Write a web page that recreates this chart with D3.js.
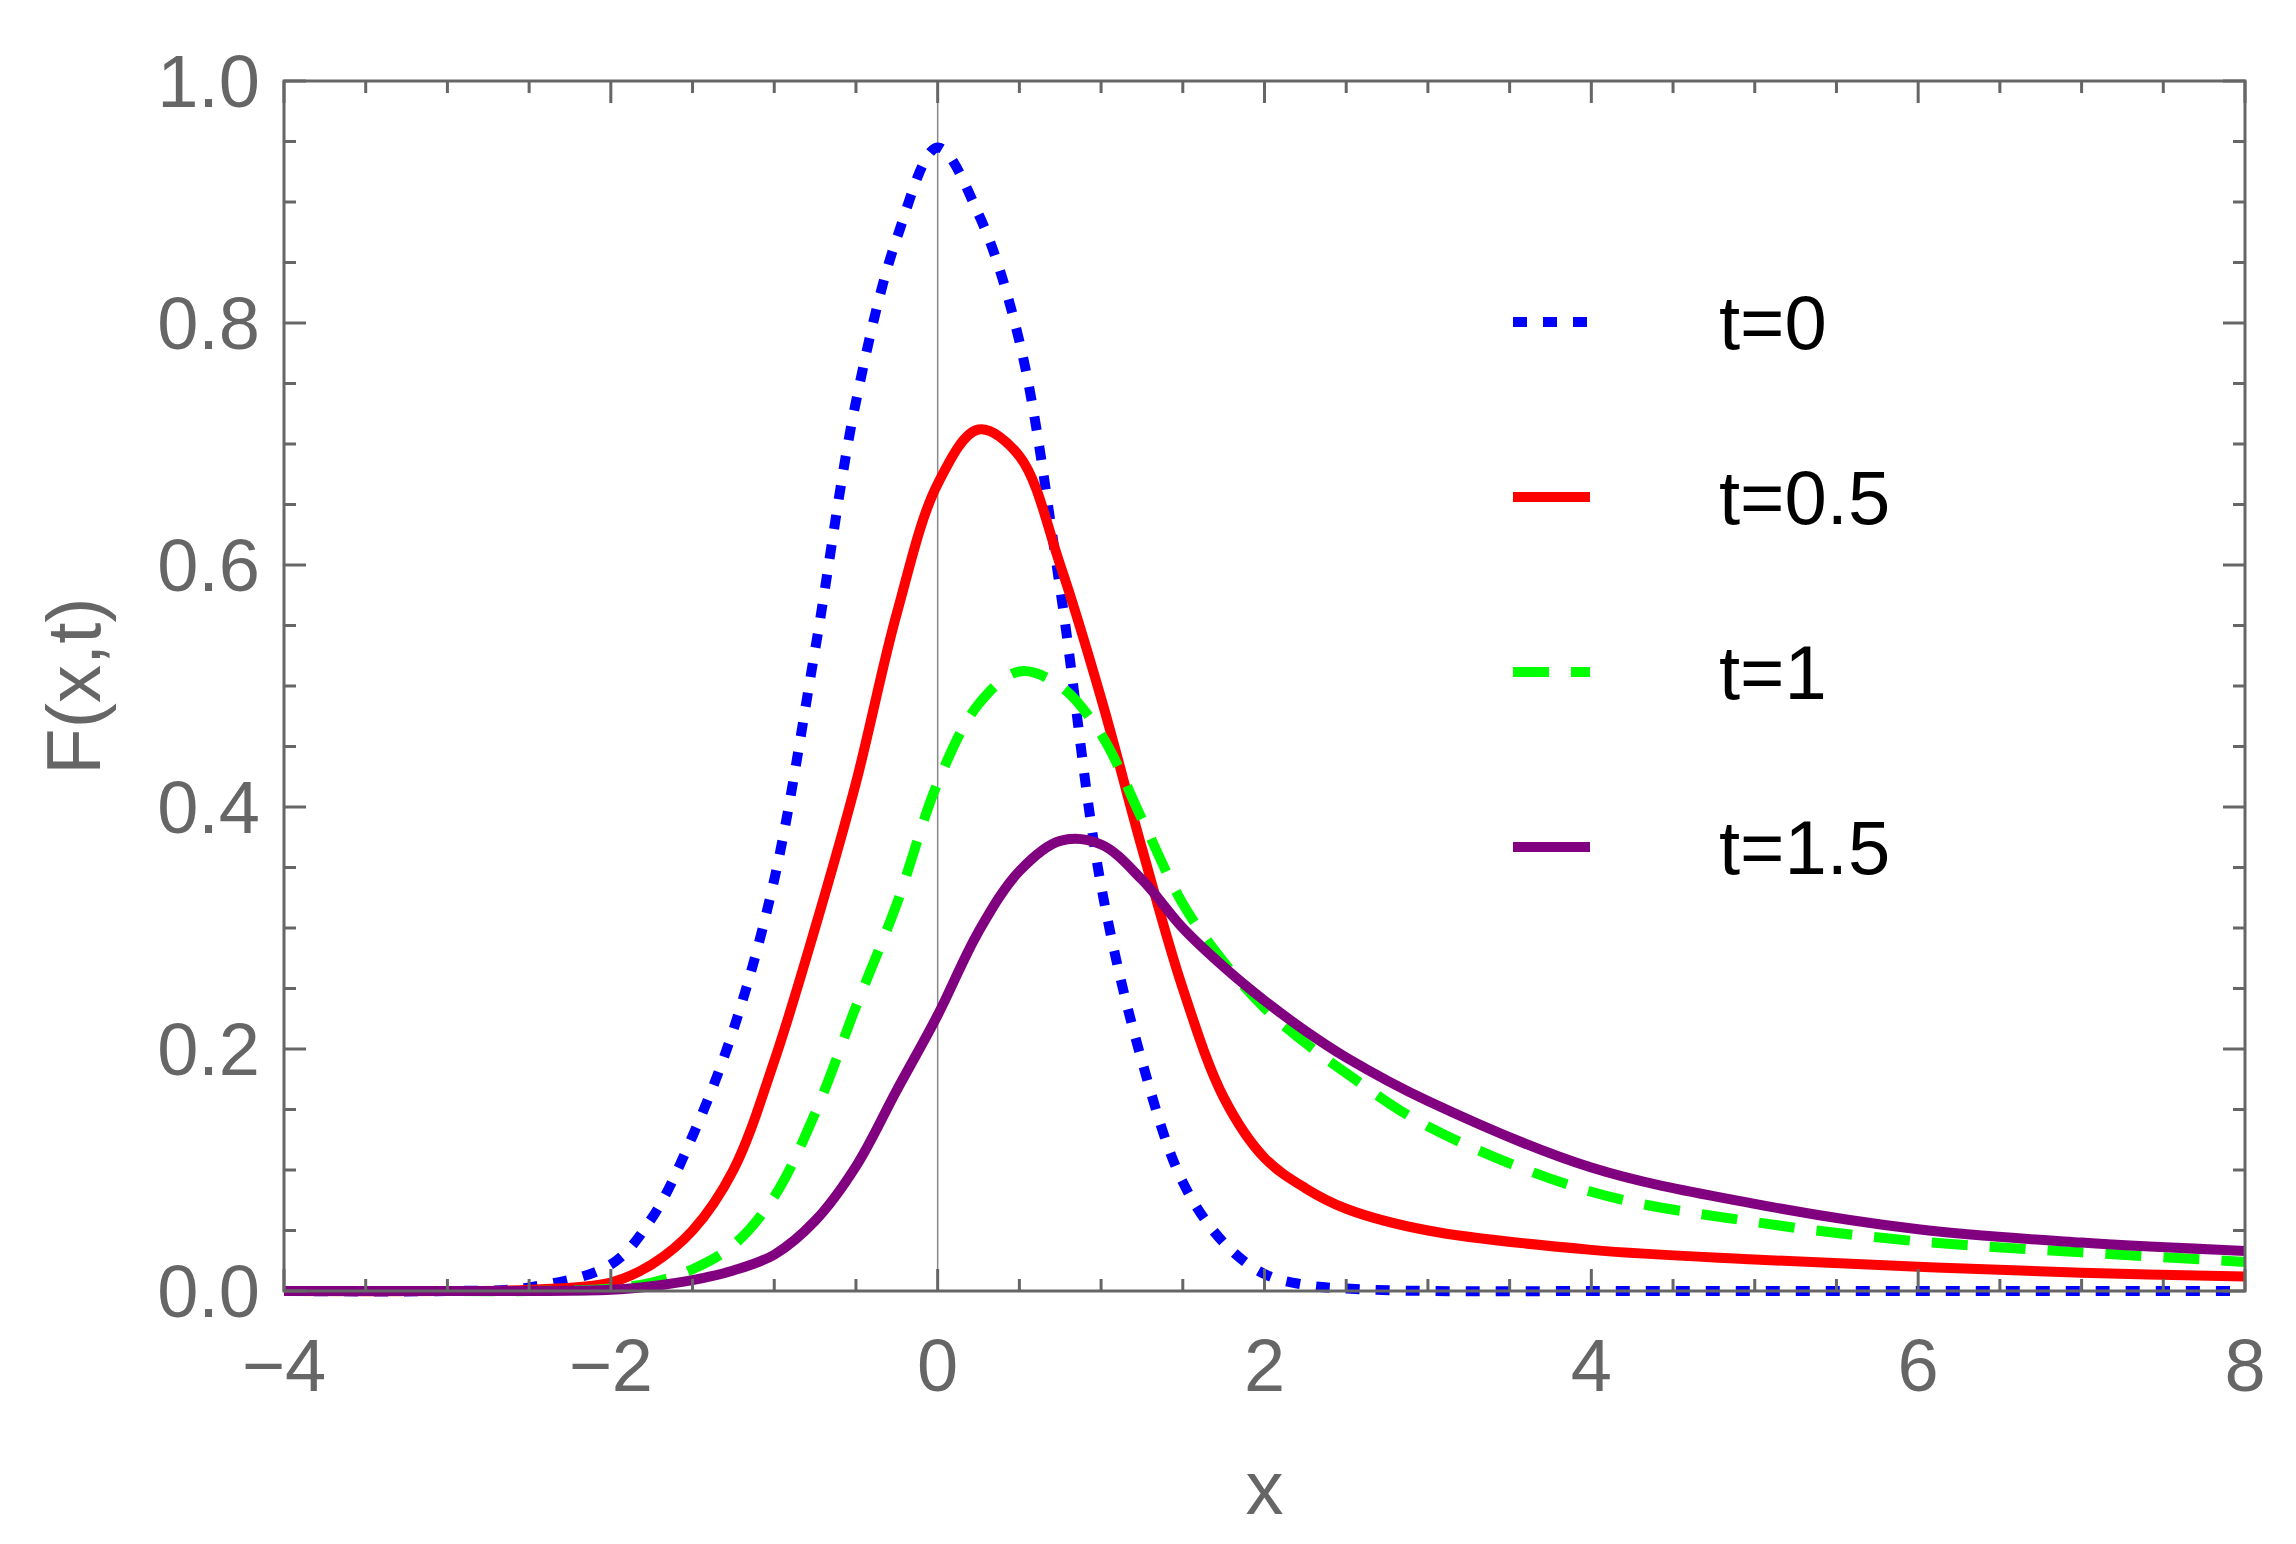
<!DOCTYPE html>
<html>
<head>
<meta charset="utf-8">
<script src="https://cdn.jsdelivr.net/npm/d3@7"></script>
<style>
  body { margin: 0; background: #fff; overflow: hidden; }
  text { font-family: "Liberation Sans", Arial, sans-serif; }
</style>
</head>
<body>
<svg id="chart"></svg>
<script>
// Values
const xs = [-4, -3, -2.5, -2, -1.75, -1.5, -1.25, -1, -0.75, -0.5, -0.25, 0, 0.25, 0.5, 0.75, 1, 1.25, 1.5, 1.75, 2, 2.25, 2.5, 3, 4, 5, 6, 7, 8];
const t0   = [0, 0, 0.003, 0.022, 0.06, 0.128, 0.216, 0.34, 0.53, 0.735, 0.87, 0.945, 0.89, 0.785, 0.58, 0.335, 0.19, 0.09, 0.04, 0.014, 0.005, 0.002, 0, 0, 0, 0, 0, 0];
const t05  = [0, 0, 0.001, 0.007, 0.022, 0.05, 0.1, 0.19, 0.30, 0.42, 0.56, 0.667, 0.712, 0.69, 0.60, 0.49, 0.366, 0.25, 0.16, 0.11, 0.085, 0.068, 0.05, 0.034, 0.026, 0.02, 0.015, 0.012];
const t1   = [0, 0, 0, 0.002, 0.007, 0.018, 0.038, 0.078, 0.147, 0.235, 0.32, 0.42, 0.485, 0.512, 0.50, 0.46, 0.39, 0.32, 0.272, 0.234, 0.205, 0.18, 0.136, 0.082, 0.057, 0.041, 0.032, 0.024];
const t15  = [0, 0, 0, 0.001, 0.004, 0.009, 0.017, 0.03, 0.058, 0.103, 0.166, 0.228, 0.297, 0.347, 0.372, 0.369, 0.34, 0.30, 0.268, 0.24, 0.215, 0.193, 0.157, 0.102, 0.072, 0.051, 0.04, 0.033];
const seriesNames = ['t=0', 't=0.5', 't=1', 't=1.5'];
const seriesColors = ['#0000ff', '#ff0000', '#00ff00', '#800080'];
const seriesDash = ['14,16', null, '36,22', null];
const xTicks = [-4, -2, 0, 2, 4, 6, 8];
const yTicks = [0, 0.2, 0.4, 0.6, 0.8, 1.0];

const width = 2296, height = 1544;
const margin = { top: 81, right: 51, bottom: 253, left: 284 };
const innerWidth = width - margin.left - margin.right;
const innerHeight = height - margin.top - margin.bottom;

const svg = d3.select('#chart').attr('width', width).attr('height', height);
const g = svg.append('g').attr('transform', `translate(${margin.left}, ${margin.top})`);

const xScale = d3.scaleLinear().domain([-4, 8]).range([0, innerWidth]);
const yScale = d3.scaleLinear().domain([0, 1]).range([innerHeight, 0]);

const axisColor = '#666';

// zero line
g.append('line')
  .attr('x1', xScale(0)).attr('x2', xScale(0))
  .attr('y1', 0).attr('y2', innerHeight)
  .attr('stroke', '#888').attr('stroke-width', 1.5);

// lines
const lineGen = d3.line()
  .x(d => xScale(d.x))
  .y(d => yScale(d.y))
  .curve(d3.curveCatmullRom.alpha(0.5));

const lineData = [t0, t05, t1, t15].map((vals, i) => ({
  name: seriesNames[i],
  values: xs.map((x, j) => ({ x, y: vals[j] }))
}));

g.selectAll('.line')
  .data(lineData)
  .join('path')
  .attr('class', 'line')
  .attr('d', d => lineGen(d.values))
  .attr('fill', 'none')
  .attr('stroke', (d, i) => seriesColors[i])
  .attr('stroke-width', 10)
  .attr('stroke-dasharray', (d, i) => seriesDash[i]);

// frame
g.append('rect')
  .attr('width', innerWidth).attr('height', innerHeight)
  .attr('fill', 'none').attr('stroke', axisColor).attr('stroke-width', 3);

// ticks on all four sides, pointing inward
const xMinor = d3.range(-4, 8.001, 0.5);
const yMinor = d3.range(0, 1.001, 0.05);
const isMajorX = v => Math.abs(v / 2 - Math.round(v / 2)) < 1e-6;
const isMajorY = v => Math.abs(v * 5 - Math.round(v * 5)) < 1e-6;

xMinor.forEach(v => {
  const len = isMajorX(v) ? 22 : 12;
  g.append('line').attr('x1', xScale(v)).attr('x2', xScale(v))
    .attr('y1', innerHeight).attr('y2', innerHeight - len)
    .attr('stroke', axisColor).attr('stroke-width', 3);
  g.append('line').attr('x1', xScale(v)).attr('x2', xScale(v))
    .attr('y1', 0).attr('y2', len)
    .attr('stroke', axisColor).attr('stroke-width', 3);
});
yMinor.forEach(v => {
  const len = isMajorY(v) ? 22 : 12;
  g.append('line').attr('y1', yScale(v)).attr('y2', yScale(v))
    .attr('x1', 0).attr('x2', len)
    .attr('stroke', axisColor).attr('stroke-width', 3);
  g.append('line').attr('y1', yScale(v)).attr('y2', yScale(v))
    .attr('x1', innerWidth).attr('x2', innerWidth - len)
    .attr('stroke', axisColor).attr('stroke-width', 3);
});

// tick labels
g.selectAll('.xlab')
  .data(xTicks)
  .join('text')
  .attr('x', d => xScale(d))
  .attr('y', innerHeight + 100)
  .attr('text-anchor', 'middle')
  .attr('fill', axisColor)
  .style('font-size', '74px')
  .text(d => d < 0 ? '\u2212' + Math.abs(d) : d);

g.selectAll('.ylab')
  .data(yTicks)
  .join('text')
  .attr('x', -24)
  .attr('y', d => yScale(d) + 26)
  .attr('text-anchor', 'end')
  .attr('fill', axisColor)
  .style('font-size', '74px')
  .text(d => d.toFixed(1));

// axis titles
svg.append('text')
  .attr('x', margin.left + xScale(2))
  .attr('y', 1514)
  .attr('text-anchor', 'middle')
  .attr('fill', axisColor)
  .style('font-size', '76px')
  .text('x');

svg.append('text')
  .attr('transform', `translate(100, ${margin.top + yScale(0.5)}) rotate(-90)`)
  .attr('text-anchor', 'middle')
  .attr('fill', axisColor)
  .style('font-size', '76px')
  .text('F(x,t)');

// legend
const legend = svg.append('g').attr('transform', 'translate(1513, 322)');
const items = legend.selectAll('.legend-item')
  .data(lineData)
  .join('g')
  .attr('transform', (d, i) => `translate(0, ${i * 175})`);
items.append('line')
  .attr('x1', 0).attr('x2', 77).attr('y1', 0).attr('y2', 0)
  .attr('stroke', (d, i) => seriesColors[i])
  .attr('stroke-width', 10)
  .attr('stroke-dasharray', (d, i) => i === 0 ? '14,16' : i === 2 ? '36,22' : null);
items.append('text')
  .attr('x', 206).attr('y', 27)
  .attr('fill', '#000')
  .style('font-size', '76px')
  .text(d => d.name);
</script>
</body>
</html>
